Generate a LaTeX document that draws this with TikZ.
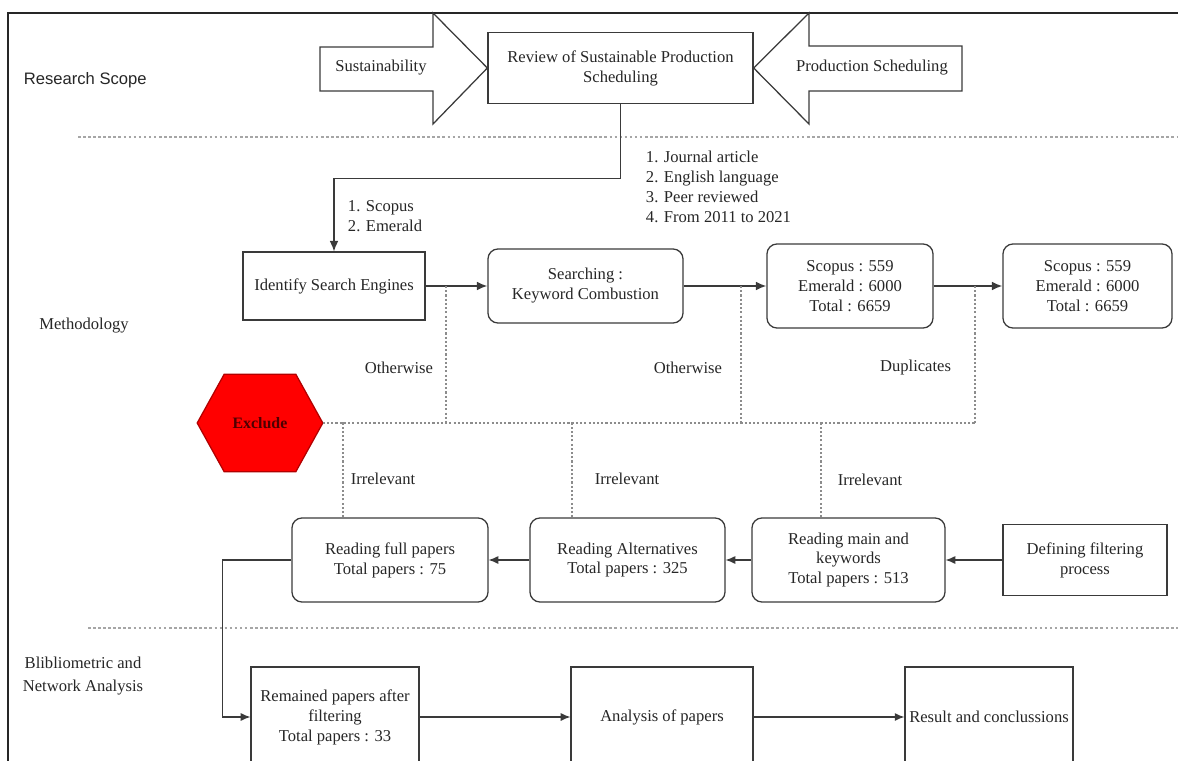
\documentclass[tikz,border=0pt]{standalone}
\usepackage{fontspec}
\setmainfont{Liberation Serif}
\newfontfamily\scopefont{Liberation Sans}
\usepackage{tikz}
\usetikzlibrary{arrows.meta,positioning,calc,backgrounds}
\usepackage{xcolor}
\definecolor{ink}{HTML}{262626}
\definecolor{ink2}{HTML}{3A3A3A}
\definecolor{dotgrey}{HTML}{8C8C8C}
\definecolor{sepgrey}{HTML}{A6A6A6}
\definecolor{exred}{HTML}{FF0000}
\definecolor{exedge}{HTML}{B20000}
\definecolor{extext}{HTML}{4D0000}

\begin{document}
\begin{tikzpicture}[x=0.025cm, y=-0.025cm, font=\fontsize{11.8}{14.2}\selectfont, text=ink,
  box/.style={draw=ink2, line width=0.9pt, inner sep=0pt, align=center},
  rbox/.style={box, rounded corners=0.25cm},
  blockarr/.style={draw=ink2, line width=0.9pt, line join=miter},
  arr/.style={-{Latex[length=2.6mm,width=2.2mm]}, ink2, line width=1.1pt},
  thinarr/.style={-{Latex[length=2.4mm,width=2mm]}, ink2, line width=0.75pt},
  dot/.style={dotgrey, line width=0.9pt, dash pattern=on 1.5pt off 1.5pt},
  sep/.style={sepgrey, line width=1.3pt, dash pattern=on 1.8pt off 1.8pt}]
  \useasboundingbox (0,0) rectangle (1178,761);
  \clip (0,0) rectangle (1178,761);
  \draw[ink, line width=0.9pt] (8,761) -- (8,13) -- (1178,13);

  \node[anchor=west, font=\scopefont\fontsize{11.8}{14.2}\selectfont] (scope) at (19,80) {Research Scope};
  \node (meth) at (84,326) {Methodology};
  \node[align=center] (biblio) at (83,676) {Blibliometric and\\[2pt]Network Analysis};
  \draw[sep] (78,137) -- (1178,137);
  \draw[sep] (88,628) -- (1178,628);

  \node[box, minimum width=6.625cm, minimum height=1.775cm] (review) at (620.5,68) {Review of Sustainable Production\\Scheduling};
  \node (sust) at (381,68) {Sustainability};
  \draw[blockarr] (320,47) -- (433,47) -- (433,13) -- (review.west) -- (433,124) -- (433,91) -- (320,91) -- cycle;
  \node (prod) at (872,68) {Production Scheduling};
  \draw[blockarr] (962,46) -- (809,46) -- (809,13) -- (review.east) -- (809,124) -- (809,91) -- (962,91) -- cycle;

  \node[box, minimum width=4.55cm, minimum height=1.7cm] (ident) at (334,286) {Identify Search Engines};
  \node[rbox, minimum width=4.875cm, minimum height=1.85cm] (search) at (585.5,286) {Searching :\\Keyword Combustion};
  \node[rbox, minimum width=4.15cm, minimum height=2.1cm] (dbA) at (850,286) {Scopus : 559\\Emerald : 6000\\Total : 6659};
  \node[rbox, minimum width=4.225cm, minimum height=2.1cm] (dbB) at (1087.5,286) {Scopus : 559\\Emerald : 6000\\Total : 6659};
  \draw[line width=0.9pt, ink2, -{Latex[length=2.6mm,width=2.2mm]}] (review.south) -- ++(0,74) -| (ident.north);
  \node[anchor=west, align=left] (engines) at (343,216) {1. Scopus\\2. Emerald};
  \node[anchor=west, align=left] (crit) at (641,187) {1. Journal article\\2. English language\\3. Peer reviewed\\4. From 2011 to 2021};
  \draw[arr] (ident) -- (search);
  \draw[arr] (search) -- (dbA);
  \draw[arr] (dbA) -- (dbB);

  \node[inner sep=0pt, minimum width=3.125cm, minimum height=2.425cm, text=extext, font=\bfseries\fontsize{11.3}{13}\selectfont] (excl) at (260,423) {Exclude};
  \begin{scope}[on background layer]
    \draw[fill=exred, draw=exedge, line width=0.9pt] (excl.west) -- ([xshift=0.675cm]excl.north west) -- ([xshift=-0.675cm]excl.north east) -- (excl.east) -- ([xshift=-0.675cm]excl.south east) -- ([xshift=0.675cm]excl.south west) -- cycle;
  \end{scope}

  \node[rbox, minimum width=4.9cm, minimum height=2.1cm] (full) at (390,560) {Reading full papers\\Total papers : 75};
  \node[rbox, minimum width=4.875cm, minimum height=2.1cm] (alt) at (627.5,560) {Reading Alternatives\\Total papers : 325};
  \node[rbox, minimum width=4.825cm, minimum height=2.1cm] (main) at (848.5,560) {Reading main and\\keywords\\Total papers : 513};
  \node[box, minimum width=4.1cm, minimum height=1.775cm] (defn) at (1085,560) {Defining filtering\\process};
  \draw[thinarr] (defn) -- (main);
  \draw[thinarr] (main) -- (alt);
  \draw[thinarr] (alt) -- (full);

  \coordinate (o1) at (446,286);
  \coordinate (o2) at (741,286);
  \coordinate (o3) at (975,286);
  \coordinate (jn) at (975,423);
  \draw[dot] (excl.east) -- (jn);
  \draw[dot] (o1) -- (o1 |- jn);
  \draw[dot] (o2) -- (o2 |- jn);
  \draw[dot] (o3) -- (jn);
  \draw[dot] ([xshift=-1.175cm]full.north) -- ++(0,-95);
  \draw[dot] ([xshift=-1.3875cm]alt.north) -- ++(0,-95);
  \draw[dot] ([xshift=-0.6875cm]main.north) -- ++(0,-95);
  \node[anchor=east] (ow1) at (438,368) {Otherwise};
  \node[anchor=east] (ow2) at (727,368) {Otherwise};
  \node[anchor=east] (dup) at (956,368) {Duplicates};
  \node (irr1) at (383,479) {Irrelevant};
  \node (irr2) at (627,479) {Irrelevant};
  \node (irr3) at (870,480) {Irrelevant};

  \node[box, minimum width=4.2cm, minimum height=2.5cm] (rem) at (335,717) {Remained papers after\\filtering\\Total papers : 33};
  \node[box, minimum width=4.55cm, minimum height=2.5cm] (anal) at (662,717) {Analysis of papers};
  \node[box, minimum width=4.2cm, minimum height=2.5cm] (res) at (989,717) {Result and conclussions};
  \draw[thinarr] (full.west) -- ++(-69,0) |- (rem.west);
  \draw[thinarr] (rem) -- (anal);
  \draw[thinarr] (anal) -- (res);
\end{tikzpicture}
\end{document}
